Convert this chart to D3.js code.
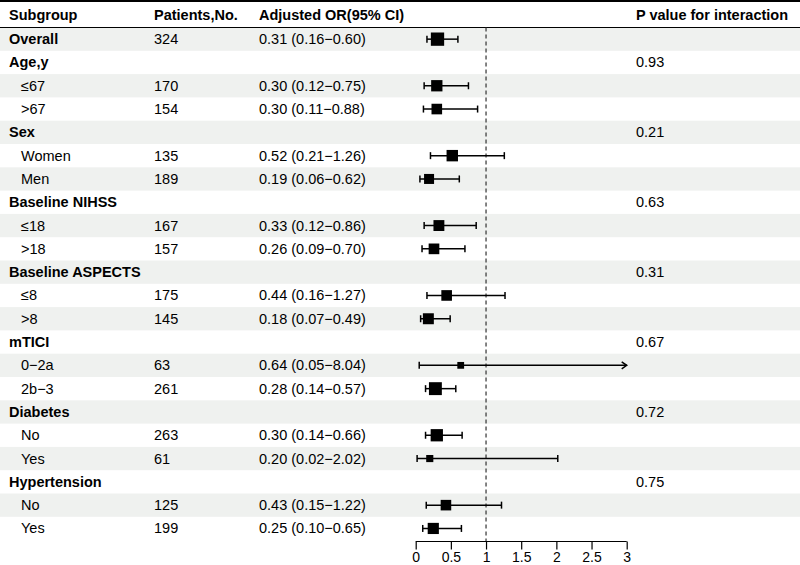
<!DOCTYPE html>
<html>
<head>
<meta charset="utf-8">
<script src="https://cdn.jsdelivr.net/npm/d3@7"></script>
<style>
  html, body { margin: 0; padding: 0; background: #fff; }
  svg { display: block; font-family: "Liberation Sans", Arial, Helvetica, sans-serif; }
</style>
</head>
<body>
<svg id="chart" width="800" height="565"></svg>
<script>
// ---- data ----
const subgroups = ["Overall","Age,y","≤67",">67","Sex","Women","Men","Baseline NIHSS","≤18",">18",
  "Baseline ASPECTS","≤8",">8","mTICI","0−2a","2b−3","Diabetes","No","Yes","Hypertension","No","Yes"];
const rowTypes = ["overall","group","sub","sub","group","sub","sub","group","sub","sub",
  "group","sub","sub","group","sub","sub","group","sub","sub","group","sub","sub"];
const patients = [324,null,170,154,null,135,189,null,167,157,null,175,145,null,63,261,null,263,61,null,125,199];
const orValues = [0.31,null,0.30,0.30,null,0.52,0.19,null,0.33,0.26,null,0.44,0.18,null,0.64,0.28,null,0.30,0.20,null,0.43,0.25];
const ciLow  = [0.16,null,0.12,0.11,null,0.21,0.06,null,0.12,0.09,null,0.16,0.07,null,0.05,0.14,null,0.14,0.02,null,0.15,0.10];
const ciHigh = [0.60,null,0.75,0.88,null,1.26,0.62,null,0.86,0.70,null,1.27,0.49,null,8.04,0.57,null,0.66,2.02,null,1.22,0.65];
const pInteraction = ["","0.93","","","0.21","","","0.63","","","0.31","","","0.67","","","0.72","","","0.75","",""];
const headers = ["Subgroup","Patients,No.","Adjusted OR(95% CI)","P value for interaction"];
const xTicks = [0,0.5,1,1.5,2,2.5,3];

// ---- layout ----
const W = 800, H = 565;
const headerBottom = 27.5;
const rowH = 23.3;
const nRows = subgroups.length;
const fs = 14.5;
const colX = {sub: 9, subIndent: 21, pat: 154, or: 259, p: 636};

const svg = d3.select("#chart");
const y = d3.scaleBand().domain(d3.range(nRows)).range([headerBottom, headerBottom + rowH*nRows]).padding(0);
const x = d3.scaleLinear().domain([0,3]).range([415.7, 626.7]);

// box size from precision
const precision = ciLow.map((l,i) => l == null ? null : 1/(Math.log(ciHigh[i]) - Math.log(l)));
const sizeScale = d3.scaleSqrt().domain([0, d3.max(precision)]).range([0, 13.3]);

// shading
svg.append("g").selectAll("rect").data(d3.range(nRows).filter(i => i % 2 === 0)).join("rect")
  .attr("x", 0).attr("width", W)
  .attr("y", i => y(i)).attr("height", y.bandwidth())
  .attr("fill", "#eff1ef");

// header lines
svg.append("line").attr("x1",0).attr("x2",W).attr("y1",1).attr("y2",1).attr("stroke","#000").attr("stroke-width",2);
svg.append("line").attr("x1",0).attr("x2",W).attr("y1",headerBottom).attr("y2",headerBottom).attr("stroke","#000").attr("stroke-width",1);

// header text
const hx = [colX.sub, colX.pat, colX.or, colX.p];
svg.append("g").selectAll("text").data(headers).join("text")
  .attr("x", (d,i) => hx[i]).attr("y", 19.5)
  .attr("font-size", fs).attr("font-weight","bold").attr("fill","#000")
  .text(d => d);

const cy = i => y(i) + y.bandwidth()/2;
const base = i => cy(i) + 5;

// subgroup labels
svg.append("g").selectAll("text").data(subgroups).join("text")
  .attr("x", (d,i) => rowTypes[i] === "sub" ? colX.subIndent : colX.sub)
  .attr("y", (d,i) => base(i))
  .attr("font-size", fs)
  .attr("font-weight", (d,i) => rowTypes[i] === "sub" ? "normal" : "bold")
  .attr("fill","#000")
  .text(d => d);

// patients
svg.append("g").selectAll("text").data(patients).join("text")
  .attr("x", colX.pat).attr("y", (d,i) => base(i))
  .attr("font-size", fs).attr("fill","#000")
  .text(d => d == null ? "" : d);

// OR text
const f2 = d3.format(".2f");
svg.append("g").selectAll("text").data(orValues).join("text")
  .attr("x", colX.or).attr("y", (d,i) => base(i))
  .attr("font-size", fs).attr("fill","#000")
  .text((d,i) => d == null ? "" : `${f2(d)} (${f2(ciLow[i])}−${f2(ciHigh[i])})`);

// p values
svg.append("g").selectAll("text").data(pInteraction).join("text")
  .attr("x", colX.p).attr("y", (d,i) => base(i))
  .attr("font-size", fs).attr("fill","#000")
  .text(d => d);

// reference line
svg.append("line").attr("x1", x(1)).attr("x2", x(1))
  .attr("y1", headerBottom).attr("y2", y(nRows-1) + rowH + 2)
  .attr("stroke","#333").attr("stroke-width",1.2).attr("stroke-dasharray","4,3");

// CIs
const idx = d3.range(nRows).filter(i => orValues[i] != null);
const g = svg.append("g");
const capH = 7;
idx.forEach(i => {
  const hiClip = Math.min(ciHigh[i], 3);
  const yy = cy(i);
  g.append("line").attr("x1", x(ciLow[i])).attr("x2", x(hiClip)).attr("y1", yy).attr("y2", yy)
    .attr("stroke","#000").attr("stroke-width",1.5);
  g.append("line").attr("x1", x(ciLow[i])).attr("x2", x(ciLow[i])).attr("y1", yy-capH/2).attr("y2", yy+capH/2)
    .attr("stroke","#000").attr("stroke-width",1.5);
  if (ciHigh[i] > 3) {
    const ax = x(3);
    g.append("path").attr("d", `M${ax-5},${yy-3.5}L${ax},${yy}L${ax-5},${yy+3.5}`)
      .attr("fill","none").attr("stroke","#000").attr("stroke-width",1.5);
  } else {
    g.append("line").attr("x1", x(hiClip)).attr("x2", x(hiClip)).attr("y1", yy-capH/2).attr("y2", yy+capH/2)
      .attr("stroke","#000").attr("stroke-width",1.5);
  }
  const s = sizeScale(precision[i]);
  g.append("rect").attr("x", x(orValues[i]) - s/2).attr("y", yy - s/2)
    .attr("width", s).attr("height", s).attr("fill","#000");
});

// axis
const axisY = 541.5;
const axis = d3.axisBottom(x).tickValues(xTicks).tickFormat(d3.format("")).tickSize(8).tickPadding(3);
const ag = svg.append("g").attr("transform", `translate(0,${axisY})`).call(axis);
ag.select(".domain").attr("stroke","#000").attr("stroke-width",1.2).attr("d", `M${x(0)},0H${x(3)}`);
ag.selectAll(".tick line").attr("stroke","#000").attr("stroke-width",1.2);
ag.selectAll(".tick text").attr("font-size", 14).attr("fill","#000")
  .attr("font-family", "Liberation Sans, Arial, sans-serif");
</script>
</body>
</html>
